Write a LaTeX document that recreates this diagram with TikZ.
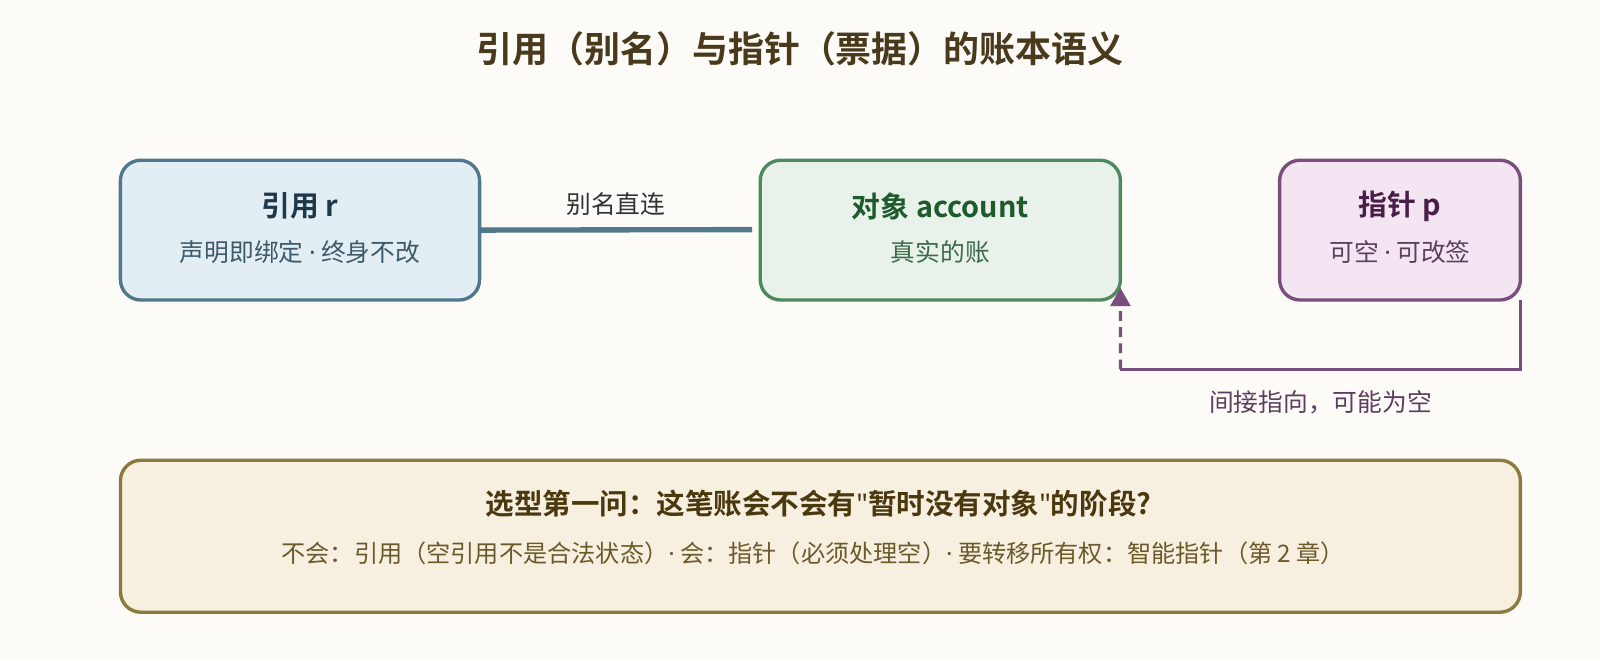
\documentclass[tikz,border=0pt]{standalone}
\usepackage{fontspec}
\setmainfont{Noto Sans CJK SC}[BoldFont={Noto Sans CJK SC Bold}]
\newfontfamily\latinfont{Noto Sans}[Ligatures=TeXOff]
\usepackage{tikz}
\usetikzlibrary{arrows.meta}

\definecolor{bgpage}{HTML}{FCFBF8}
\definecolor{titlecol}{HTML}{4A3A1C}
\definecolor{refdraw}{HTML}{50788A}
\definecolor{reffill}{HTML}{E3EDF4}
\definecolor{reftext}{HTML}{1E3A4A}
\definecolor{refsub}{HTML}{3E5A6A}
\definecolor{objdraw}{HTML}{4C8A5E}
\definecolor{objfill}{HTML}{E8F2EA}
\definecolor{objtext}{HTML}{1E5A2C}
\definecolor{objsub}{HTML}{3C6A48}
\definecolor{ptrdraw}{HTML}{7A4E7C}
\definecolor{ptrfill}{HTML}{F3E6F2}
\definecolor{ptrtext}{HTML}{4A1E48}
\definecolor{ptrsub}{HTML}{5E3E60}
\definecolor{notedraw}{HTML}{8C7A3C}
\definecolor{notefill}{HTML}{F7EFE0}
\definecolor{notetext}{HTML}{4A380E}
\definecolor{notesub}{HTML}{6B5A2A}

\newcommand{\mdot}{{\latinfont ·}}

\begin{document}
\begin{tikzpicture}[x=0.02551cm, y=-0.02551cm,
  every node/.style={inner sep=0pt, outer sep=0pt},
  card/.style={rounded corners=0.51cm, line width=2.4pt, minimum height=3.495cm},
  headtext/.style={font=\bfseries\fontsize{20.5}{24}\selectfont},
  subtext/.style={font=\fontsize{17.6}{21}\selectfont},
  ptrline/.style={ptrdraw, line width=2.3pt}]
\useasboundingbox[fill=bgpage] (0,0) rectangle (1568,647);

\node[text=titlecol, font=\bfseries\fontsize{25.6}{30}\selectfont] (title) at (784,48) {引用（别名）与指针（票据）的账本语义};

% the three boxes
\node[card, draw=refdraw, fill=reffill, minimum width=8.98cm] (ref) at (294,225.5) {};
\node[card, draw=objdraw, fill=objfill, minimum width=9.005cm] (acct) at (921.5,225.5) {};
\node[card, draw=ptrdraw, fill=ptrfill, minimum width=6.02cm] (ptr) at (1372,225.5) {};

\node[headtext, text=reftext] (ref head) at (294,202) {引用 r};
\node[subtext, text=refsub] (ref sub) at (294,247) {声明即绑定 \mdot{} 终身不改};
\node[headtext, text=objtext] (acct head) at (921.5,202) {对象 account};
\node[subtext, text=objsub] (acct sub) at (921.5,247) {真实的账};
\node[headtext, text=ptrtext] (ptr head) at (1372,202) {指针 p};
\node[subtext, text=ptrsub] (ptr sub) at (1372,247) {可空 \mdot{} 可改签};

% note box
\node[card, draw=notedraw, fill=notefill, minimum width=35.0cm, minimum height=3.80cm] (note) at (804,525.5) {};
\node[text=notetext, font=\bfseries\fontsize{20.3}{24}\selectfont] (note head) at (802,494)
  {选型第一问：这笔账会不会有{\latinfont "}暂时没有对象{\latinfont "}的阶段?};
\node[text=notesub, font=\fontsize{17.2}{21}\selectfont] (note sub) at (797,542)
  {不会：引用（空引用不是合法状态）\mdot{} 会：指针（必须处理空）\mdot{} 要转移所有权：智能指针（第 2 章）};

% alias line
\coordinate (alias end) at (737,225);
\draw[refdraw, line width=3.8pt] (ref.east) -- (alias end)
  node[midway, yshift=0.64cm, text=black!80, subtext] (alias label) {别名直连};

% pointer path
\coordinate (turn) at (1098,362);
\draw[ptrline] (ptr.south east) |- (turn)
  node[pos=0.75, yshift=-0.82cm, text=ptrsub, subtext] (ptr label) {间接指向，可能为空};
\draw[ptrline, dash pattern=on 7pt off 4.5pt, -{Triangle[length=13pt, width=14pt]}] (turn) -- ([yshift=0.306cm]acct.south east);
\end{tikzpicture}
\end{document}
